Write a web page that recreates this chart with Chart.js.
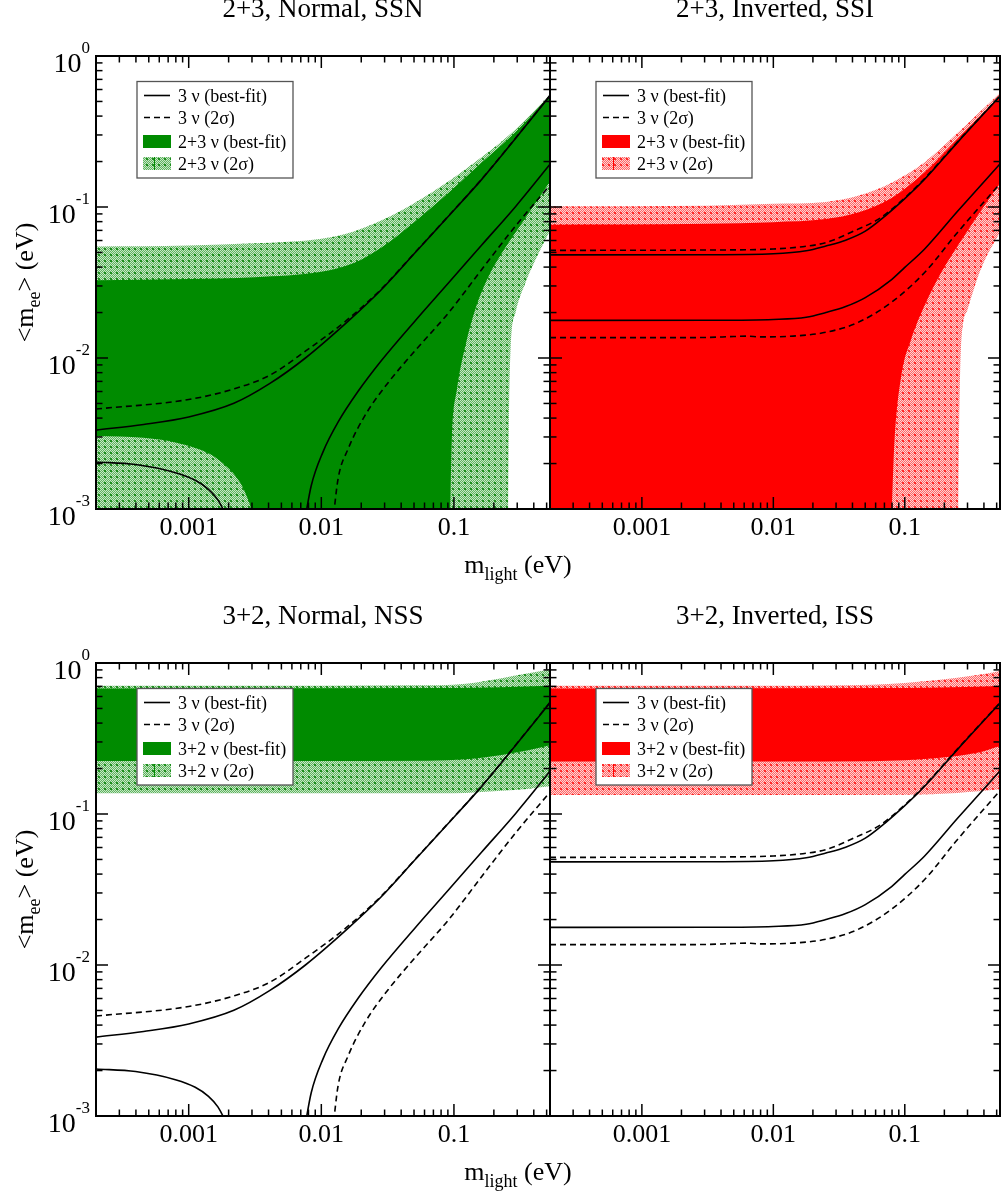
<!DOCTYPE html>
<html>
<head>
<meta charset="utf-8">
<script src="https://cdn.jsdelivr.net/npm/chart.js@4.4.0/dist/chart.umd.min.js"></script>
<style>
  html, body { margin: 0; padding: 0; background: #fff; }
  body { width: 1001px; height: 1200px; position: relative; overflow: hidden; }
  canvas { position: absolute; }
</style>
</head>
<body>
<canvas id="tl" width="600" height="600" style="left:0;top:0"></canvas>
<canvas id="tr" width="461" height="600" style="left:540px;top:0"></canvas>
<canvas id="bl" width="600" height="600" style="left:0;top:600px"></canvas>
<canvas id="br" width="461" height="600" style="left:540px;top:600px"></canvas>
<script>
// axis ranges and tick labels
const xMin = 2e-4, xMax = 0.53, yMin = 1e-3, yMax = 1;
const xTickValues = [0.001, 0.01, 0.1];
const xTickLabels = ['0.001', '0.01', '0.1'];
const yTickValues = [1, 0.1, 0.01, 0.001];
const yTickExps = ['0', '-1', '-2', '-3'];

const panelTitles = ['2+3, Normal, SSN', '2+3, Inverted, SSI', '3+2, Normal, NSS', '3+2, Inverted, ISS'];
const legendTop = ['3 ν (best-fit)', '3 ν (2σ)', '2+3 ν (best-fit)', '2+3 ν (2σ)'];
const legendBottom = ['3 ν (best-fit)', '3 ν (2σ)', '3+2 ν (best-fit)', '3+2 ν (2σ)'];

// 3 nu, normal ordering
const nBfHiX = [2e-4, 4.57e-4, 1e-3, 2.19e-3, 4.07e-3, 7.59e-3, 0.0158, 0.0282, 0.0513, 0.0912, 0.162, 0.288, 0.55];
const nBfHiY = [3.33e-3, 3.63e-3, 4.07e-3, 5.01e-3, 6.76e-3, 0.01, 0.0174, 0.0282, 0.0501, 0.0871, 0.1524, 0.2805, 0.569];
const n2sHiX = [2e-4, 1e-3, 2.19e-3, 4.07e-3, 7.59e-3, 0.0158, 0.0282, 0.0513, 0.0912, 0.162, 0.288, 0.55];
const n2sHiY = [4.59e-3, 5.31e-3, 6.24e-3, 7.67e-3, 0.0111, 0.018, 0.0285, 0.0504, 0.0875, 0.153, 0.282, 0.571];
const nBfLoAX = [2e-4, 3.98e-4, 7.94e-4, 1.12e-3, 1.41e-3, 1.66e-3, 1.86e-3, 2e-3];
const nBfLoAY = [2.05e-3, 1.97e-3, 1.74e-3, 1.55e-3, 1.35e-3, 1.15e-3, 0.95e-3, 0.8e-3];
const nBfLoBX = [7.41e-3, 8.4e-3, 0.0103, 0.0134, 0.019, 0.0285, 0.0509, 0.0912, 0.162, 0.291, 0.55];
const nBfLoBY = [7.9e-4, 1.43e-3, 2.39e-3, 3.77e-3, 6.04e-3, 9.66e-3, 0.0176, 0.0315, 0.056, 0.1005, 0.1995];
const n2sLoBX = [0.01216, 0.01337, 0.0159, 0.0213, 0.032, 0.0509, 0.0912, 0.162, 0.291, 0.55];
const n2sLoBY = [7.9e-4, 1.58e-3, 2.49e-3, 4.15e-3, 6.89e-3, 0.01117, 0.01995, 0.0386, 0.0748, 0.145];

// 3 nu, inverted ordering
const iBfHiX = [2e-4, 3.16e-3, 0.01, 0.0178, 0.0251, 0.0355, 0.0501, 0.0708, 0.1, 0.141, 0.251, 0.55];
const iBfHiY = [0.0482, 0.0483, 0.049, 0.0513, 0.0552, 0.0603, 0.0692, 0.0871, 0.1135, 0.152, 0.267, 0.562];
const i2sHiX = [2e-4, 3.16e-3, 0.01, 0.0178, 0.0251, 0.0437, 0.0631, 0.1, 0.141, 0.251, 0.55];
const i2sHiY = [0.0516, 0.0519, 0.0527, 0.055, 0.0581, 0.0711, 0.0832, 0.1148, 0.154, 0.269, 0.565];
const iBfLoX = [2e-4, 3.16e-3, 0.01, 0.0178, 0.0251, 0.0355, 0.0501, 0.0794, 0.1, 0.141, 0.251, 0.55];
const iBfLoY = [0.01774, 0.01778, 0.018, 0.0186, 0.02, 0.0219, 0.0251, 0.0331, 0.0398, 0.0525, 0.0933, 0.2];
const i2sLoX = [2e-4, 2.51e-3, 5.01e-3, 6.31e-3, 7.94e-3, 0.0141, 0.0251, 0.0437, 0.0794, 0.141, 0.251, 0.55];
const i2sLoY = [0.01365, 0.01365, 0.01387, 0.01396, 0.0138, 0.01396, 0.0148, 0.01714, 0.02344, 0.0367, 0.0676, 0.148];

// 2+3 normal (SSN) bands
const ssnDarkHiX = [1.9e-4, 1e-3, 3.16e-3, 0.01, 0.0178, 0.0282, 0.0501, 0.0912, 0.162, 0.288, 0.55];
const ssnDarkHiY = [0.0327, 0.0333, 0.0343, 0.0372, 0.0427, 0.0537, 0.0794, 0.1245, 0.197, 0.31, 0.569];
const ssnDarkLoX = [1.9e-4, 4.57e-4, 8.51e-4, 1.41e-3, 1.82e-3, 2.29e-3, 2.69e-3, 3.02e-3, 3.24e-3, 0.0912, 0.0966, 0.1054, 0.1219, 0.1449, 0.1832, 0.2312, 0.3273, 0.4645, 0.55];
const ssnDarkLoY = [3.05e-3, 2.96e-3, 2.72e-3, 2.34e-3, 2.0e-3, 1.62e-3, 1.26e-3, 8.9e-4, 5e-4, 5e-4, 3.04e-3, 6.21e-3, 0.012, 0.021, 0.0349, 0.0499, 0.0787, 0.1245, 0.155];
const ssnLightHiX = [1.9e-4, 1e-3, 3.16e-3, 0.01, 0.0178, 0.0282, 0.0501, 0.0912, 0.162, 0.288, 0.55];
const ssnLightHiY = [0.0547, 0.0556, 0.0575, 0.0617, 0.0692, 0.0813, 0.106, 0.148, 0.214, 0.324, 0.575];
const ssnLightLoX = [1.9e-4, 0.1, 0.254, 0.2594, 0.2673, 0.2911, 0.3467, 0.4385, 0.55];
const ssnLightLoY = [5e-4, 5e-4, 5e-4, 3.72e-3, 0.01148, 0.01995, 0.0316, 0.0501, 0.0741];

// 2+3 inverted (SSI) bands
const ssiDarkHiX = [1.9e-4, 3.16e-3, 0.01, 0.0251, 0.0447, 0.0794, 0.1413, 0.2512, 0.55];
const ssiDarkHiY = [0.0764, 0.0776, 0.0794, 0.0832, 0.0923, 0.1148, 0.17, 0.282, 0.562];
const ssiDarkLoX = [1.9e-4, 0.0316, 0.0767, 0.0836, 0.094, 0.1119, 0.1409, 0.1888, 0.2831, 0.4018, 0.55];
const ssiDarkLoY = [5e-4, 5e-4, 5e-4, 2.88e-3, 7.59e-3, 0.0133, 0.0221, 0.0367, 0.0643, 0.1016, 0.1514];
const ssiLightHiX = [1.9e-4, 3.16e-3, 0.01, 0.0251, 0.0447, 0.0794, 0.1413, 0.2512, 0.55];
const ssiLightHiY = [0.101, 0.102, 0.105, 0.108, 0.119, 0.145, 0.198, 0.309, 0.589];
const ssiLightLoX = [1.9e-4, 0.1, 0.253, 0.2594, 0.2673, 0.2999, 0.3793, 0.55];
const ssiLightLoY = [5e-4, 5e-4, 5e-4, 3.72e-3, 0.01148, 0.0209, 0.0389, 0.0724];

// 3+2 normal (NSS) bands
const nssDarkHiX = [1.9e-4, 0.1, 0.229, 0.55];
const nssDarkHiY = [0.679, 0.682, 0.692, 0.708];
const nssDarkLoX = [1.9e-4, 0.01, 0.0631, 0.123, 0.229, 0.355, 0.55];
const nssDarkLoY = [0.2244, 0.2244, 0.2254, 0.2301, 0.246, 0.263, 0.288];
const nssLightHiX = [1.9e-4, 0.01, 0.0501, 0.123, 0.229, 0.355, 0.55];
const nssLightHiY = [0.708, 0.708, 0.711, 0.73, 0.794, 0.851, 0.912];
const nssLightLoX = [1.9e-4, 0.01, 0.1, 0.229, 0.355, 0.55];
const nssLightLoY = [0.137, 0.137, 0.1374, 0.1426, 0.1466, 0.153];

// 3+2 inverted (ISS) bands
const issDarkHiX = [1.9e-4, 0.1, 0.55];
const issDarkHiY = [0.679, 0.682, 0.705];
const issDarkLoX = [1.9e-4, 0.01, 0.0562, 0.178, 0.355, 0.55];
const issDarkLoY = [0.2223, 0.2223, 0.2239, 0.235, 0.254, 0.285];
const issLightHiX = [1.9e-4, 0.01, 0.0562, 0.178, 0.355, 0.55];
const issLightHiY = [0.708, 0.708, 0.718, 0.771, 0.832, 0.891];
const issLightLoX = [1.9e-4, 0.01, 0.1, 0.251, 0.55];
const issLightLoY = [0.1337, 0.1337, 0.1343, 0.138, 0.146];

const SERIF = '"Liberation Serif", "DejaVu Serif", serif';

function pts(xs, ys) {
  return xs.map((x, i) => ({ x: x, y: ys[i] }));
}

// dotted halftone fill like the 2 sigma regions
function makeHatch(base, hi, dot) {
  const c = document.createElement('canvas');
  c.width = 6; c.height = 6;
  const g = c.getContext('2d');
  g.fillStyle = base;
  g.fillRect(0, 0, 6, 6);
  g.fillStyle = hi;
  for (let i = 0; i < 6; i++) {
    for (let j = 0; j < 6; j++) {
      if ((i + j) % 2 === 0) g.fillRect(i, j, 1, 1);
    }
  }
  g.fillStyle = dot;
  g.fillRect(2, 2, 2, 2);
  return g.createPattern(c, 'repeat');
}

const greenDark = 'rgb(0,139,0)';
const redDark = 'rgb(255,0,0)';
const greenHatch = makeHatch('#5fb35f', '#c6e8c6', '#1e8e1e');
const redHatch = makeHatch('#ff6666', '#ffd2d2', '#ff2a2a');

function lineSet(xs, ys, dashed) {
  return {
    data: pts(xs, ys),
    borderColor: '#000',
    borderWidth: 1.6,
    borderDash: dashed ? [6, 4] : [],
    fill: false
  };
}

function bandSets(hiX, hiY, loX, loY, color) {
  return [
    { data: pts(hiX, hiY), fill: '+1', backgroundColor: color, borderWidth: 0, borderColor: 'transparent' },
    { data: pts(loX, loY), fill: false, borderWidth: 0, borderColor: 'transparent' }
  ];
}

const normalLines = () => [
  lineSet(nBfHiX, nBfHiY, false),
  lineSet(n2sHiX, n2sHiY, true),
  lineSet(nBfLoAX, nBfLoAY, false),
  lineSet(nBfLoBX, nBfLoBY, false),
  lineSet(n2sLoBX, n2sLoBY, true)
];
const invertedLines = () => [
  lineSet(iBfHiX, iBfHiY, false),
  lineSet(i2sHiX, i2sHiY, true),
  lineSet(iBfLoX, iBfLoY, false),
  lineSet(i2sLoX, i2sLoY, true)
];

function makeDecor(p) {
  return {
    id: 'decor',
    afterDraw(chart) {
      const ctx = chart.ctx;
      const a = chart.chartArea;
      const sx = chart.scales.x, sy = chart.scales.y;
      const seg = (x1, y1, x2, y2) => { ctx.beginPath(); ctx.moveTo(x1, y1); ctx.lineTo(x2, y2); ctx.stroke(); };
      ctx.save();
      ctx.fillStyle = '#000';
      ctx.textBaseline = 'alphabetic';

      // panel title
      ctx.font = '27px ' + SERIF;
      ctx.textAlign = 'center';
      ctx.fillText(p.title, (a.left + a.right) / 2, a.top - 39);

      // legend box
      const bx = a.left + p.legendDx, by = a.top + 25.5, bw = 156, bh = 96.5;
      ctx.fillStyle = '#fff';
      ctx.fillRect(bx, by, bw, bh);
      ctx.strokeStyle = '#555';
      ctx.lineWidth = 1.3;
      ctx.strokeRect(bx, by, bw, bh);
      const rows = [14, 36, 60, 82];
      ctx.strokeStyle = '#000';
      ctx.lineWidth = 1.6;
      seg(bx + 7, by + rows[0], bx + 33, by + rows[0]);
      ctx.setLineDash([6, 4]);
      seg(bx + 7, by + rows[1], bx + 33, by + rows[1]);
      ctx.setLineDash([]);
      ctx.fillStyle = p.dark;
      ctx.fillRect(bx + 6, by + rows[2] - 6.5, 28, 13);
      ctx.fillStyle = p.hatch;
      ctx.fillRect(bx + 6, by + rows[3] - 6.5, 28, 13);
      ctx.strokeStyle = p.dark;
      ctx.lineWidth = 1;
      seg(bx + 17.5, by + rows[3] - 6.5, bx + 17.5, by + rows[3] + 6.5);
      ctx.fillStyle = '#000';
      ctx.font = '18px ' + SERIF;
      ctx.textAlign = 'left';
      p.legend.forEach((t, i) => ctx.fillText(t, bx + 41, by + rows[i] + 6));

      // inward ticks on all four sides
      ctx.strokeStyle = '#000';
      ctx.lineWidth = 1.5;
      for (let d = -4; d <= 0; d++) {
        for (let k = 1; k <= 9; k++) {
          const v = k * Math.pow(10, d);
          const len = k === 1 ? 12 : 6.5;
          if (v >= xMin * 0.999 && v <= xMax * 1.001) {
            const px = sx.getPixelForValue(v);
            seg(px, a.bottom, px, a.bottom - len);
            seg(px, a.top, px, a.top + len);
          }
          if (v >= yMin * 0.999 && v <= yMax * 1.001) {
            const py = sy.getPixelForValue(v);
            seg(a.left, py, a.left + len, py);
            seg(a.right, py, a.right - len, py);
          }
        }
      }
      ctx.lineWidth = 2;
      ctx.strokeRect(a.left, a.top, a.right - a.left, a.bottom - a.top);

      // x tick labels
      ctx.font = '26px ' + SERIF;
      ctx.textAlign = 'center';
      xTickValues.forEach((v, i) => ctx.fillText(xTickLabels[i], sx.getPixelForValue(v), a.bottom + 26));

      if (p.leftSide) {
        // y tick labels 10^n
        ctx.textAlign = 'left';
        yTickValues.forEach((v, i) => {
          const py = sy.getPixelForValue(v);
          ctx.font = '17px ' + SERIF;
          const we = ctx.measureText(yTickExps[i]).width;
          ctx.font = '28px ' + SERIF;
          const wb = ctx.measureText('10').width;
          const x0 = a.left - 6 - we - wb;
          ctx.fillText('10', x0, py + 16);
          ctx.font = '17px ' + SERIF;
          ctx.fillText(yTickExps[i], x0 + wb, py - 3);
        });

        // x axis title m_light (eV)
        drawRich(ctx, [['m', 26, 0], ['light', 18, 7], [' (eV)', 26, 0]], 518, a.bottom + 64);

        // y axis title <m_ee> (eV), rotated
        ctx.save();
        ctx.translate(33, (a.top + a.bottom) / 2);
        ctx.rotate(-Math.PI / 2);
        drawRich(ctx, [['<m', 26, 0], ['ee', 18, 7], ['> (eV)', 26, 0]], 0, 0);
        ctx.restore();
      }
      ctx.restore();
    }
  };
}

// text with subscripts, centred at cx on baseline by
function drawRich(ctx, parts, cx, by) {
  let total = 0;
  const widths = parts.map(([t, s]) => {
    ctx.font = s + 'px ' + SERIF;
    const w = ctx.measureText(t).width;
    total += w;
    return w;
  });
  let x = cx - total / 2;
  ctx.textAlign = 'left';
  parts.forEach(([t, s, dy], i) => {
    ctx.font = s + 'px ' + SERIF;
    ctx.fillText(t, x, by + dy);
    x += widths[i];
  });
}

function makePanel(id, datasets, pad, p) {
  new Chart(document.getElementById(id), {
    type: 'line',
    data: { datasets: datasets },
    options: {
      responsive: false,
      animation: false,
      devicePixelRatio: 1,
      events: [],
      layout: { padding: pad },
      scales: {
        x: { type: 'logarithmic', min: xMin, max: xMax, display: false },
        y: { type: 'logarithmic', min: yMin, max: yMax, display: false }
      },
      elements: {
        point: { radius: 0 },
        line: { cubicInterpolationMode: 'monotone', capBezierPoints: false }
      },
      plugins: { legend: { display: false }, tooltip: { enabled: false } }
    },
    plugins: [makeDecor(p)]
  });
}

const padLeftTop = { left: 96, top: 56, right: 50, bottom: 91 };
const padRightTop = { left: 10, top: 56, right: 1, bottom: 91 };
const padLeftBot = { left: 96, top: 63, right: 50, bottom: 84 };
const padRightBot = { left: 10, top: 63, right: 1, bottom: 84 };

makePanel('tl', [
  ...normalLines(),
  ...bandSets(ssnDarkHiX, ssnDarkHiY, ssnDarkLoX, ssnDarkLoY, greenDark),
  ...bandSets(ssnLightHiX, ssnLightHiY, ssnLightLoX, ssnLightLoY, greenHatch)
], padLeftTop, { title: panelTitles[0], legend: legendTop, dark: greenDark, hatch: greenHatch, legendDx: 41, leftSide: true });

makePanel('tr', [
  ...invertedLines(),
  ...bandSets(ssiDarkHiX, ssiDarkHiY, ssiDarkLoX, ssiDarkLoY, redDark),
  ...bandSets(ssiLightHiX, ssiLightHiY, ssiLightLoX, ssiLightLoY, redHatch)
], padRightTop, { title: panelTitles[1], legend: legendTop, dark: redDark, hatch: redHatch, legendDx: 46, leftSide: false });

makePanel('bl', [
  ...normalLines(),
  ...bandSets(nssDarkHiX, nssDarkHiY, nssDarkLoX, nssDarkLoY, greenDark),
  ...bandSets(nssLightHiX, nssLightHiY, nssLightLoX, nssLightLoY, greenHatch)
], padLeftBot, { title: panelTitles[2], legend: legendBottom, dark: greenDark, hatch: greenHatch, legendDx: 41, leftSide: true });

makePanel('br', [
  ...invertedLines(),
  ...bandSets(issDarkHiX, issDarkHiY, issDarkLoX, issDarkLoY, redDark),
  ...bandSets(issLightHiX, issLightHiY, issLightLoX, issLightLoY, redHatch)
], padRightBot, { title: panelTitles[3], legend: legendBottom, dark: redDark, hatch: redHatch, legendDx: 46, leftSide: false });
</script>
</body>
</html>
